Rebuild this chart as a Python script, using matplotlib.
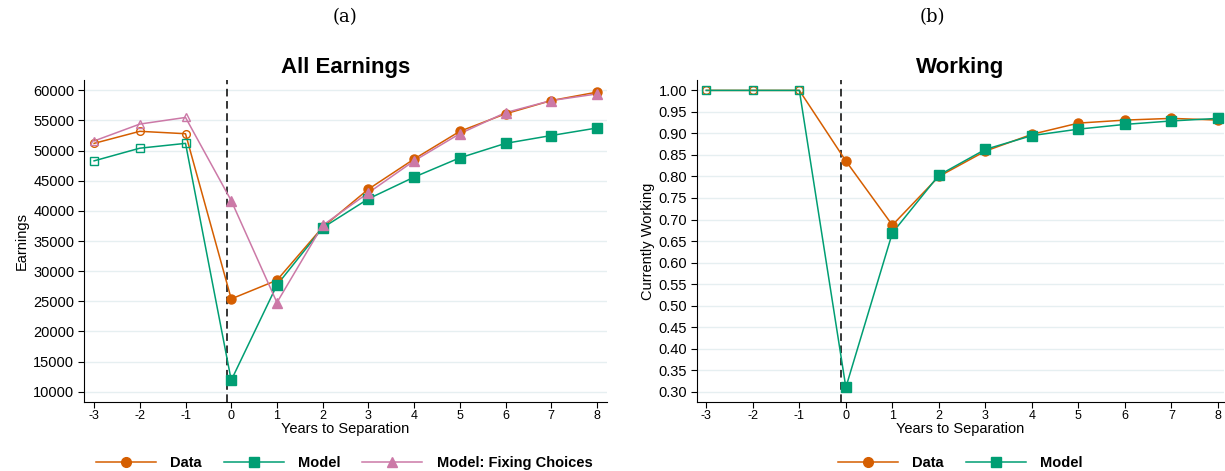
import numpy as np
import matplotlib.pyplot as plt
from matplotlib.lines import Line2D

plt.rcParams['font.family'] = ['Liberation Sans', 'DejaVu Sans']
plt.rcParams['axes.unicode_minus'] = False

# years relative to separation
years = [-3, -2, -1, 0, 1, 2, 3, 4, 5, 6, 7, 8]

# panel (a) earnings
earn_data = [51200, 53200, 52800, 25400, 28500, 37300, 43600, 48600, 53200, 56100, 58300, 59700]
earn_model = [48300, 50400, 51200, 11900, 27700, 37200, 42000, 45600, 48800, 51200, 52500, 53750]
earn_fixed = [51600, 54400, 55500, 41700, 24800, 37600, 43000, 48300, 52800, 56300, 58300, 59400]

# panel (b) working
work_data = [1.00, 1.00, 1.00, 0.836, 0.687, 0.800, 0.859, 0.898, 0.924, 0.931, 0.935, 0.931]
work_model = [1.00, 1.00, 1.00, 0.310, 0.669, 0.803, 0.863, 0.895, 0.910, 0.921, 0.929, 0.935]

ORANGE = '#D55E00'
GREEN = '#009E73'
PINK = '#CC79A7'
GRID = '#e6eff1'


def draw_series(ax, x, y, color, marker, size):
    x = np.array(x)
    y = np.array(y)
    ax.plot(x, y, color=color, lw=1.1, zorder=3)
    pre = x < 0
    ax.plot(x[pre], y[pre], ls='none', marker=marker, ms=size * 0.85,
            mfc='none', mec=color, mew=1.0, zorder=4)
    ax.plot(x[~pre], y[~pre], ls='none', marker=marker, ms=size,
            mfc=color, mec=color, zorder=4)


def style_axes(ax):
    ax.spines['top'].set_visible(False)
    ax.spines['right'].set_visible(False)
    ax.set_xticks(years)
    ax.tick_params(axis='x', labelsize=9, length=4, pad=2)
    ax.tick_params(axis='y', labelsize=10.5, length=4, pad=3)
    ax.yaxis.grid(True, color=GRID, lw=1.0)
    ax.set_axisbelow(True)
    ax.axvline(-0.1, color='black', ls=(0, (5, 3)), lw=1.1, zorder=2)
    ax.set_xlabel('Years to Separation', fontsize=10.5, labelpad=0)


fig = plt.figure(figsize=(12.25, 4.71), dpi=100)

ax1 = fig.add_axes([0.0686, 0.1465, 0.4269, 0.6835])
draw_series(ax1, years, earn_data, ORANGE, 'o', 6.5)
draw_series(ax1, years, earn_model, GREEN, 's', 7)
draw_series(ax1, years, earn_fixed, PINK, '^', 7)
ax1.set_xlim(-3.22, 8.22)
ax1.set_ylim(8300, 61700)
ax1.set_yticks(np.arange(10000, 60001, 5000))
ax1.set_ylabel('Earnings', fontsize=10.5, labelpad=3)
ax1.set_title('All Earnings', fontsize=16, fontweight='bold', pad=5)
style_axes(ax1)

ax2 = fig.add_axes([0.569, 0.1465, 0.4302, 0.6835])
draw_series(ax2, years, work_data, ORANGE, 'o', 6.5)
draw_series(ax2, years, work_model, GREEN, 's', 7)
ax2.set_xlim(-3.2, 8.13)
ax2.set_ylim(0.276, 1.024)
ax2.set_yticks(np.arange(0.30, 1.001, 0.05))
ax2.set_yticklabels([f'{v:.2f}' for v in np.arange(0.30, 1.001, 0.05)])
ax2.set_ylabel('Currently Working', fontsize=10.5, labelpad=3)
ax2.set_title('Working', fontsize=16, fontweight='bold', pad=5)
style_axes(ax2)

# legends
h_data = Line2D([], [], color=ORANGE, marker='o', ms=7, lw=1.1)
h_model = Line2D([], [], color=GREEN, marker='s', ms=7, lw=1.1)
h_fixed = Line2D([], [], color=PINK, marker='^', ms=7, lw=1.1)
fig.legend([h_data, h_model, h_fixed], ['Data', 'Model', 'Model: Fixing Choices'],
           loc='center', bbox_to_anchor=(0.281, 0.017), ncol=3, frameon=False,
           prop={'weight': 'bold', 'size': 10.5}, handlelength=4.1, columnspacing=1.5,
           handletextpad=1.0)
fig.legend([h_data, h_model], ['Data', 'Model'],
           loc='center', bbox_to_anchor=(0.784, 0.017), ncol=2, frameon=False,
           prop={'weight': 'bold', 'size': 10.5}, handlelength=4.1, columnspacing=1.5,
           handletextpad=1.0)

fig.text(0.282, 0.963, '(a)', ha='center', va='center', fontsize=13, family='DejaVu Serif')
fig.text(0.761, 0.963, '(b)', ha='center', va='center', fontsize=13, family='DejaVu Serif')

fig.savefig('out.png', dpi=100)
